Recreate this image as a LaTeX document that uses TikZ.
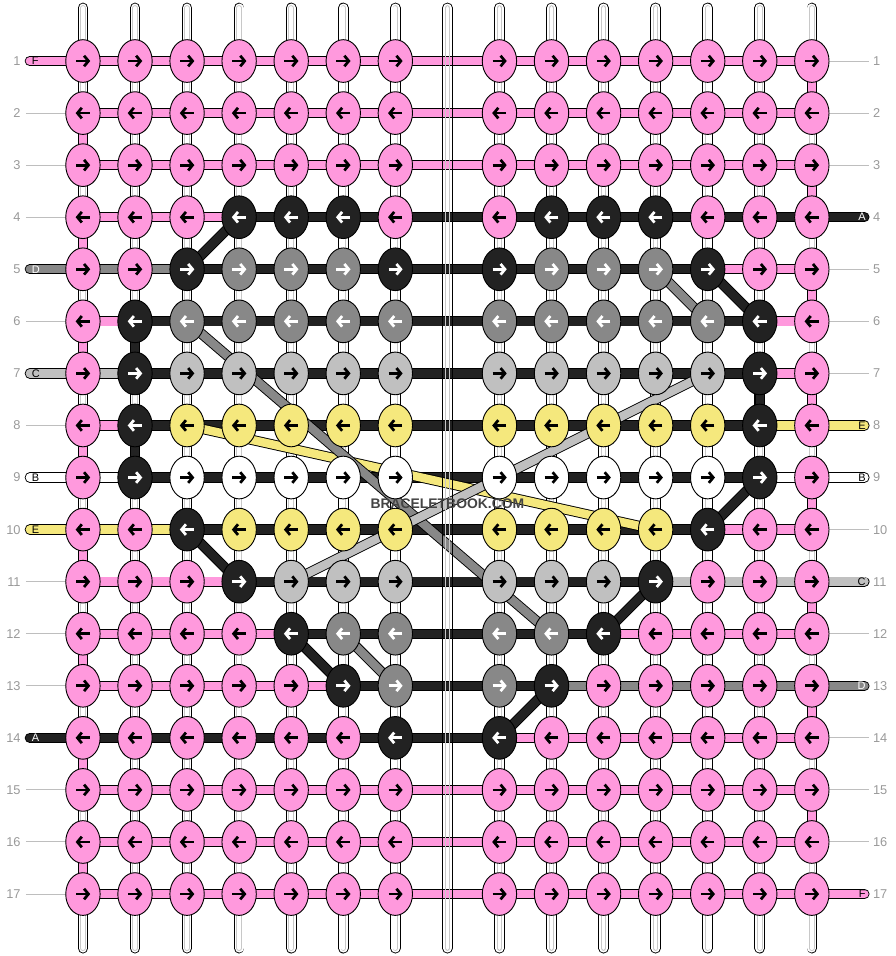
\documentclass[tikz,border=0pt]{standalone}
\usepackage{fontspec}
\setmainfont{Liberation Sans}
\usetikzlibrary{shapes.geometric, arrows.meta}

\definecolor{cP}{RGB}{255,153,221}
\definecolor{cK}{RGB}{34,34,34}
\definecolor{cG}{RGB}{136,136,136}
\definecolor{cL}{RGB}{192,192,192}
\definecolor{cY}{RGB}{245,232,125}
\definecolor{cW}{RGB}{255,255,255}
\colorlet{aP}{black}\colorlet{aK}{white}\colorlet{aG}{white}
\colorlet{aL}{black}\colorlet{aY}{black}\colorlet{aW}{black}
\definecolor{numgray}{RGB}{153,153,153}
\definecolor{rulegray}{RGB}{190,190,190}
\definecolor{tubegray}{RGB}{200,200,200}
\definecolor{markgray}{RGB}{68,68,68}

\pgfdeclarelayer{strands}
\pgfdeclarelayer{bands}
\pgfsetlayers{strands,bands,main}

\tikzset{
  knot/.style={ellipse, draw=black, line width=0.5pt, inner sep=0pt,
    minimum width=0.66cm, minimum height=0.82cm, fill=c#1},
  thread/.style={draw=black, line width=0.5pt, double=c#1, double distance=4.6pt},
  warp/.style={draw=black, line width=5.8pt, line cap=round,
    postaction={draw=white, line width=4.8pt},
    postaction={draw=tubegray, line width=3pt},
    postaction={draw=white, line width=2pt}},
  arr/.style={line width=1.5pt, -{Straight Barb[length=2.4pt, width=5.8pt]}},
  rownum/.style={text=numgray, font=\fontsize{7}{8}\selectfont, inner sep=0pt},
  endtag/.style={font=\fontsize{6}{7}\selectfont, inner sep=0pt},
}

\begin{document}
\begin{tikzpicture}[x=1cm, y=1cm]
\useasboundingbox (-1.593,-18.19) rectangle (15.60,0.172);

\foreach \r/\kn in {
  1/{P,P,P,P,P,P,P,P,P,P,P,P,P,P},
  2/{P,P,P,P,P,P,P,P,P,P,P,P,P,P},
  3/{P,P,P,P,P,P,P,P,P,P,P,P,P,P},
  4/{P,P,P,K,K,K,P,P,K,K,K,P,P,P},
  5/{P,P,K,G,G,G,K,K,G,G,G,K,P,P},
  6/{P,K,G,G,G,G,G,G,G,G,G,G,K,P},
  7/{P,K,L,L,L,L,L,L,L,L,L,L,K,P},
  8/{P,K,Y,Y,Y,Y,Y,Y,Y,Y,Y,Y,K,P},
  9/{P,K,W,W,W,W,W,W,W,W,W,W,K,P},
  10/{P,P,K,Y,Y,Y,Y,Y,Y,Y,Y,K,P,P},
  11/{P,P,P,K,L,L,L,L,L,L,K,P,P,P},
  12/{P,P,P,P,K,G,G,G,G,K,P,P,P,P},
  13/{P,P,P,P,P,K,G,G,K,P,P,P,P,P},
  14/{P,P,P,P,P,P,K,K,P,P,P,P,P,P},
  15/{P,P,P,P,P,P,P,P,P,P,P,P,P,P},
  16/{P,P,P,P,P,P,P,P,P,P,P,P,P,P},
  17/{P,P,P,P,P,P,P,P,P,P,P,P,P,P}}{
  \foreach \t [count=\c] in \kn {
    \pgfmathtruncatemacro\xx{\c-1+(\c>7)}
    \node[knot=\t] (k\r-\c) at (\xx,-\r) {};
    \ifodd\r
      \draw[arr, draw=a\t] (\xx-0.13,-\r) -- (\xx+0.14,-\r);
    \else
      \draw[arr, draw=a\t] (\xx+0.13,-\r) -- (\xx-0.14,-\r);
    \fi
  }
}

\begin{pgfonlayer}{strands}
\foreach \k in {0,...,14}
  \draw[warp] (\k,0.02) -- (\k,-18.04);
\end{pgfonlayer}

\begin{pgfonlayer}{bands}
\foreach \r/\sg in {
  1/{P,P,P,P,P,P,P,P,P,P,P,P,P},
  2/{P,P,P,P,P,P,P,P,P,P,P,P,P},
  3/{P,P,P,P,P,P,P,P,P,P,P,P,P},
  4/{P,P,P,K,K,K,K,K,K,K,K,K,K},
  5/{G,G,K,K,K,K,K,K,K,K,K,P,P},
  6/{P,K,K,K,K,K,K,K,K,K,K,K,P},
  7/{L,K,K,K,K,K,K,K,K,K,K,K,P},
  8/{P,K,K,K,K,K,K,K,K,K,K,K,Y},
  9/{W,K,K,K,K,K,K,K,K,K,K,K,W},
  10/{Y,Y,K,K,K,K,K,K,K,K,K,P,P},
  11/{P,P,P,K,K,K,K,K,K,K,L,L,L},
  12/{P,P,P,P,K,K,K,K,K,P,P,P,P},
  13/{P,P,P,P,P,K,K,K,G,G,G,G,G},
  14/{K,K,K,K,K,K,K,P,P,P,P,P,P},
  15/{P,P,P,P,P,P,P,P,P,P,P,P,P},
  16/{P,P,P,P,P,P,P,P,P,P,P,P,P},
  17/{P,P,P,P,P,P,P,P,P,P,P,P,P}}{
  \foreach \t [count=\c] in \sg {
    \pgfmathtruncatemacro\d{\c+1}
    \draw[thread=\t] (k\r-\c.center) -- (k\r-\d.center);
  }
}

\foreach \r [evaluate=\r as \s using int(\r+1)] in {1,3,...,15}
  \draw[thread=P] (k\r-14.center) -- (k\s-14.center);
\foreach \r [evaluate=\r as \s using int(\r+1)] in {2,4,...,16}
  \draw[thread=P] (k\r-1.center) -- (k\s-1.center);
\foreach \a/\b in {k6-2/k7-2, k8-2/k9-2, k7-13/k8-13}
  \draw[thread=K] (\a.center) -- (\b.center);

\foreach \a/\b/\t in {k8-3/k10-11/Y, k6-3/k12-9/G, k5-11/k6-12/G, k12-6/k13-7/G,
    k7-12/k11-5/L, k4-4/k5-3/K, k5-12/k6-13/K, k9-13/k10-12/K, k10-3/k11-4/K,
    k11-11/k12-10/K, k12-5/k13-6/K, k13-9/k14-8/K}
  \draw[thread=\t] (\a.center) -- (\b.center);

\foreach \r/\t/\lt/\tc in {1/P/F/black, 5/G/D/white, 7/L/C/black,
    9/W/B/black, 10/Y/E/black, 14/K/A/white}{
  \coordinate (l\r) at (-1.02,-\r);
  \draw[thread=\t, line cap=round] (l\r) -- (k\r-1.center);
  \node[endtag, text=\tc, anchor=west] (tl\r) at (-0.99,-\r) {\lt};
}
\foreach \r/\t/\lt/\tc in {4/K/A/white, 8/Y/E/black, 9/W/B/black,
    11/L/C/black, 13/G/D/white, 17/P/F/black}{
  \coordinate (r\r) at (15.01,-\r);
  \draw[thread=\t, line cap=round] (k\r-14.center) -- (r\r);
  \node[endtag, text=\tc, anchor=east] (tr\r) at (15.04,-\r) {\lt};
}

\foreach \r in {2,3,4,6,8,11,12,13,15,16,17}{
  \coordinate (gl\r) at (-1.094,-\r);
  \draw[rulegray, line width=0.55pt] (gl\r) -- (k\r-1.center);
}
\foreach \r in {1,2,3,5,6,7,10,12,14,15,16}{
  \coordinate (gr\r) at (15.1,-\r);
  \draw[rulegray, line width=0.55pt] (k\r-14.center) -- (gr\r);
}
\end{pgfonlayer}

\foreach \dx/\cl in {-2.65pt/black, 2.65pt/black, -1.25pt/tubegray, 1.25pt/tubegray}
  \draw[\cl, line width=0.5pt, xshift=\dx] (7,-0.6) -- (7,-17.4);

\foreach \r in {1,...,17}{
  \node[rownum, anchor=east] (nl\r) at (-1.19,-\r) {\r};
  \node[rownum, anchor=west] (nr\r) at (15.17,-\r) {\r};
}

\node[text=markgray, font=\bfseries\fontsize{7.6}{8}\selectfont, inner sep=0pt] (mark) at (7,-9.5) {BRACELETBOOK.COM};

\end{tikzpicture}
\end{document}
